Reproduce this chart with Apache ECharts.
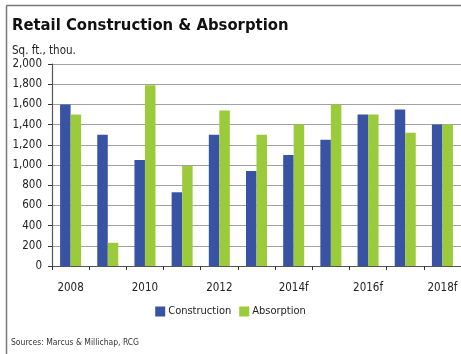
<!DOCTYPE html>
<html>
<head>
<meta charset="utf-8">
<script src="https://cdn.jsdelivr.net/npm/echarts@6/dist/echarts.min.js"></script>
<style>
  html, body { margin: 0; padding: 0; background: #fff; }
  #chart { width: 461px; height: 354px; }
</style>
</head>
<body>
<div id="chart"></div>
<script>
// Retail construction vs. absorption, square feet in thousands
const years = ['2008', '2009', '2010', '2011', '2012', '2013', '2014f', '2015f', '2016f', '2017f', '2018f'];
const construction = [1600, 1300, 1050, 730, 1300, 940, 1100, 1250, 1500, 1550, 1400];
const absorption = [1500, 230, 1790, 990, 1540, 1300, 1400, 1600, 1500, 1320, 1400];
const yTicks = { min: 0, max: 2000, step: 200 };

const FONT = '"DejaVu Sans Condensed", sans-serif';
const chart = echarts.init(document.getElementById('chart'), null, { renderer: 'canvas' });

chart.setOption({
  animation: false,
  backgroundColor: '#fff',
  textStyle: { fontFamily: FONT },
  title: [
    {
      text: 'Retail Construction & Absorption',
      left: 12, top: 17, padding: 0,
      textStyle: { fontFamily: FONT, fontWeight: 'bold', fontSize: 16.5, color: '#111' }
    },
    {
      text: 'Sq. ft., thou.',
      left: 12, top: 45, padding: 0,
      textStyle: { fontFamily: FONT, fontWeight: 'normal', fontSize: 11.5, color: '#222' }
    },
    {
      text: 'Sources: Marcus & Millichap, RCG',
      left: 11, top: 338, padding: 0,
      textStyle: { fontFamily: FONT, fontWeight: 'normal', fontSize: 8.5, color: '#333' }
    }
  ],
  graphic: [
    // panel frame (top and left edges)
    { type: 'line', shape: { x1: 6.5, y1: 5.5, x2: 461, y2: 5.5 }, style: { stroke: '#777', lineWidth: 1.5 } },
    { type: 'line', shape: { x1: 6.5, y1: 5.5, x2: 6.5, y2: 354 }, style: { stroke: '#777', lineWidth: 1.5 } }
  ],
  legend: {
    data: ['Construction', 'Absorption'],
    top: 301, left: 'center',
    itemWidth: 10, itemHeight: 10, itemGap: 8,
    icon: 'rect',
    textStyle: { fontFamily: FONT, fontSize: 11, color: '#222', padding: [0, 0, 0, -2] }
  },
  grid: { left: 52, right: 0, top: 64, bottom: 88, containLabel: false },
  xAxis: {
    type: 'category',
    data: years,
    boundaryGap: true,
    axisLine: { lineStyle: { color: '#555', width: 1.2 } },
    axisTick: { show: true, interval: 0, length: 4, lineStyle: { color: '#333' } },
    axisLabel: { interval: 1, margin: 16, fontFamily: FONT, fontSize: 11.5, color: '#222' }
  },
  yAxis: {
    type: 'value',
    min: yTicks.min, max: yTicks.max, interval: yTicks.step,
    axisLine: { show: true, lineStyle: { color: '#555', width: 1.2 } },
    axisTick: { show: true, length: 4, lineStyle: { color: '#333' } },
    splitLine: { lineStyle: { color: '#a0a0a0', width: 1 } },
    axisLabel: {
      margin: 10, fontFamily: FONT, fontSize: 11.5, color: '#222',
      formatter: v => v.toLocaleString('en-US')
    }
  },
  series: [
    {
      name: 'Construction', type: 'bar', data: construction,
      barWidth: 10.5, barGap: '0%',
      itemStyle: { color: '#3953A4' }
    },
    {
      name: 'Absorption', type: 'bar', data: absorption,
      barWidth: 10.5, barGap: '0%',
      itemStyle: { color: '#9BCA3B' }
    }
  ]
});
</script>
</body>
</html>
